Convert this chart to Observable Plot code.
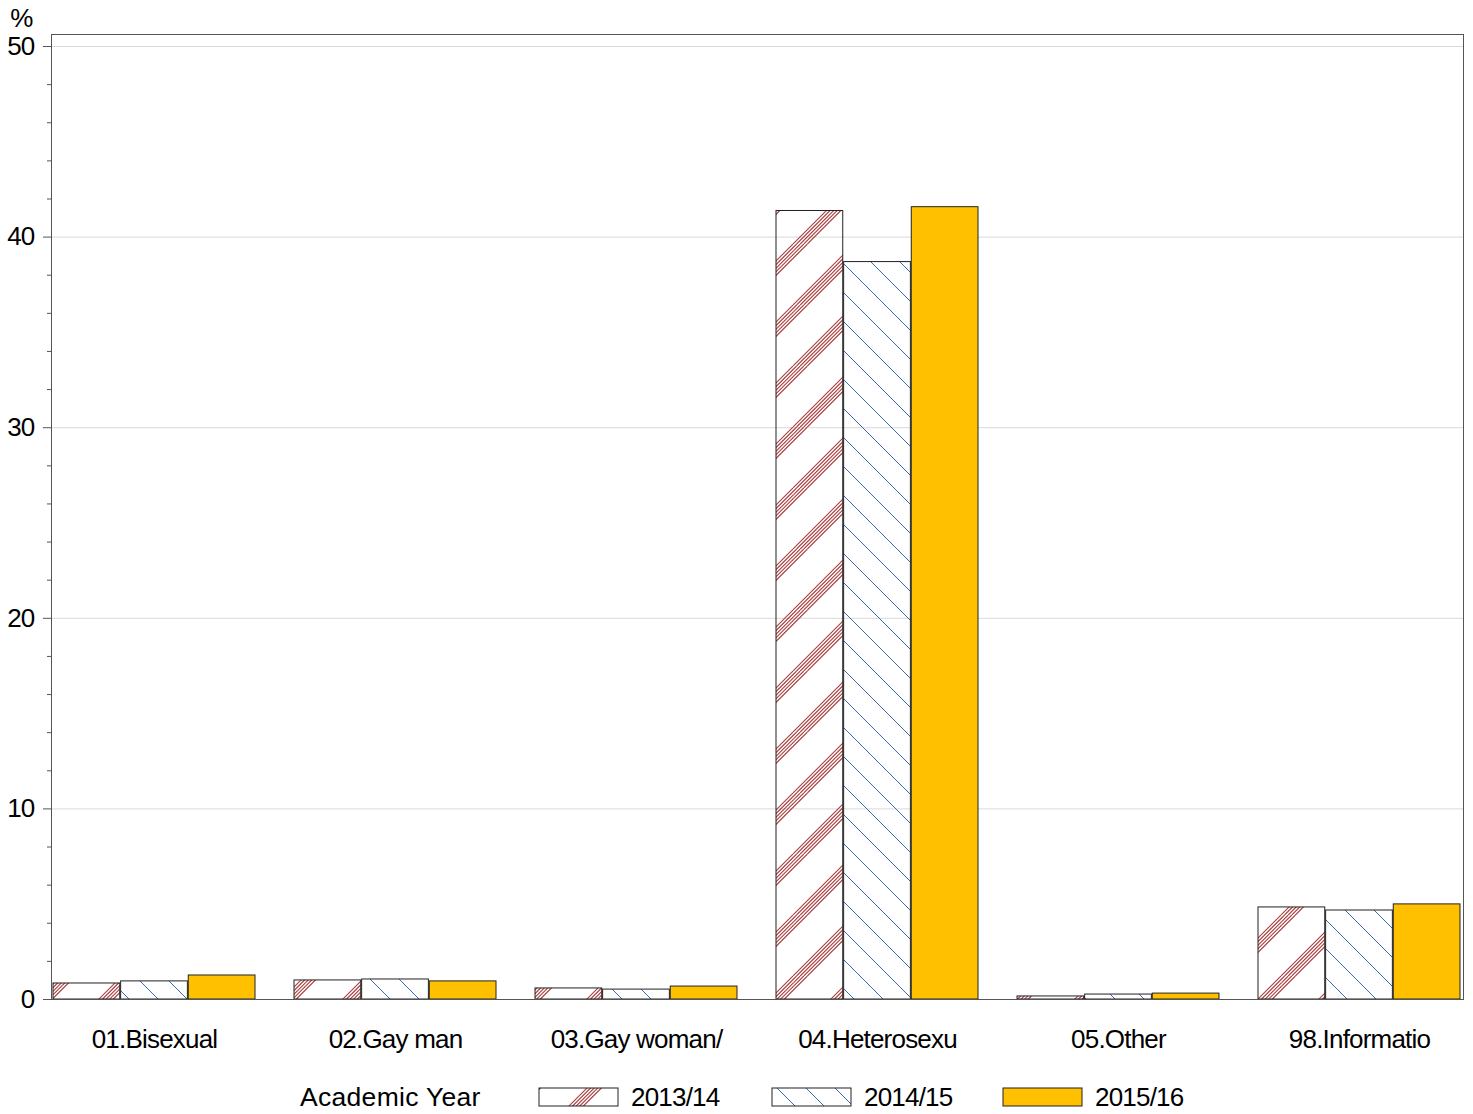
<!DOCTYPE html>
<html><head><meta charset="utf-8">
<script src="https://cdn.jsdelivr.net/npm/d3@7"></script>
<script src="https://cdn.jsdelivr.net/npm/@observablehq/plot@0.6"></script>
<style>
body{margin:0;background:#fff;font-family:"Liberation Sans",Arial,sans-serif;}
svg{display:block;}
</style></head><body>
<svg id="defs" width="0" height="0" style="position:absolute"><defs></defs></svg>
<div id="chart"></div>
<script>
const categories = ["01.Bisexual", "02.Gay man", "03.Gay woman/", "04.Heterosexu", "05.Other", "98.Informatio"];
const years = ["2013/14", "2014/15", "2015/16"];
const v2013 = [0.84, 1.00, 0.58, 41.37, 0.16, 4.83];
const v2014 = [0.95, 1.05, 0.52, 38.69, 0.26, 4.67];
const v2015 = [1.26, 0.95, 0.68, 41.57, 0.31, 4.99];
const majorTicks = [0, 10, 20, 30, 40, 50];
const minorTicks = d3.range(0, 51, 2).filter(d => d % 10 !== 0);

// patterns
const defs = d3.select("#defs defs");
const red = "#a83c3c", blue = "#3f68b3";
{
  const P = 61;
  const p = defs.append("pattern").attr("id", "hRed").attr("patternUnits", "userSpaceOnUse")
    .attr("width", P).attr("height", P);
  for (const c of [-P, 0, P, 2 * P]) for (let k = 0; k < 5; k++) {
    const cc = c + k * 3.6;
    p.append("line").attr("x1", cc).attr("y1", 0).attr("x2", cc - P).attr("y2", P)
      .attr("stroke", red).attr("stroke-width", 1.1);
  }
}
{
  const P = 29;
  const p = defs.append("pattern").attr("id", "hBlue").attr("patternUnits", "userSpaceOnUse")
    .attr("width", P).attr("height", P);
  for (const c of [-P, 0, P]) {
    p.append("line").attr("x1", c).attr("y1", 0).attr("x2", c + P).attr("y2", P)
      .attr("stroke", blue).attr("stroke-width", 1);
  }
}
const fills = ["url(#hRed)", "url(#hBlue)", "#FFC000"];
const series = [v2013, v2014, v2015];

const W = 1473, H = 1065, ML = 51, MR = 10, MT = 34, MB = 66;
const pIn = 0.161;
const step = (W - ML - MR) / (categories.length - pIn);
const bw = step * (1 - pIn);
const third = bw / 3;

const barMarks = series.map((vals, j) => Plot.barY(
  categories.map((c, i) => ({cat: c, v: vals[i], year: years[j]})),
  {x: "cat", y: "v", fill: fills[j], stroke: "#222", strokeWidth: 1,
   insetLeft: j * third, insetRight: (2 - j) * third}
));

const FONT = "'Liberation Sans', Arial, sans-serif";
const chart = Plot.plot({
  width: W, height: H,
  marginLeft: ML, marginRight: MR, marginTop: MT, marginBottom: MB,
  style: {fontSize: "26px", fontFamily: FONT, letterSpacing: "-0.8px", color: "#000", background: "#fff"},
  x: {domain: categories, paddingInner: pIn, paddingOuter: 0, axis: null},
  y: {domain: [0, 50.63], axis: null},
  marks: [
    Plot.gridY(majorTicks.filter(d => d > 0), {stroke: "#d9d9d9", strokeOpacity: 1}),
    ...barMarks,
    Plot.frame({stroke: "#555", strokeWidth: 1}),
    Plot.axisY({ticks: majorTicks, tickSize: 8, tickPadding: 9, label: null, stroke: "#555", fontSize: 26}),
    Plot.axisY({ticks: minorTicks, tickSize: 4, tickFormat: () => "", label: null, stroke: "#555"}),
    Plot.axisX({tickSize: 0, tickPadding: 30, label: null, fontSize: 26}),
    Plot.text(["%"], {frameAnchor: "top-left", lineAnchor: "middle", dx: -30, dy: -16, textAnchor: "middle", fontSize: 26})
  ]
});
document.getElementById("chart").appendChild(chart);

// legend
const leg = d3.select("#chart").append("svg").attr("width", W).attr("height", 49)
  .style("font-family", FONT).style("font-size", "26px").style("letter-spacing", "-0.8px");
leg.append("text").attr("x", 300).attr("y", 32).attr("dy", "0.35em")
  .style("letter-spacing", "0.3px").style("font-size", "26.5px").text("Academic Year");
const swX = [539, 772, 1003];
years.forEach((y, j) => {
  leg.append("rect").attr("x", swX[j]).attr("y", 23).attr("width", 79).attr("height", 18)
    .attr("fill", fills[j]).attr("stroke", "#222");
  leg.append("text").attr("x", swX[j] + 92).attr("y", 32).attr("dy", "0.35em").text(y);
});
</script>
</body></html>
